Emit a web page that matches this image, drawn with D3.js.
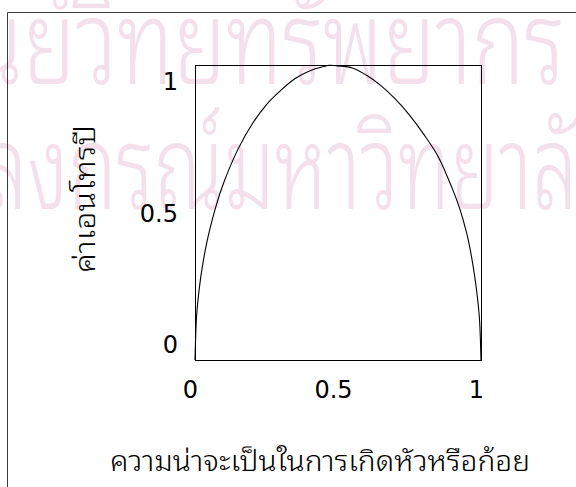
<!DOCTYPE html>
<html>
<head>
<meta charset="utf-8">
<script src="https://cdn.jsdelivr.net/npm/d3@7"></script>
<style>
  html, body { margin: 0; padding: 0; background: #ffffff; }
  svg { display: block; }
</style>
</head>
<body>
<svg id="chart" width="576" height="487"></svg>
<script>
// Probability of heads/tails (x) and the entropy value drawn for it (y)
const probability = [0, 0.005, 0.01, 0.02, 0.035, 0.05, 0.075, 0.1, 0.15, 0.2, 0.25, 0.3, 0.35, 0.4, 0.45, 0.47,
                     0.5, 0.55, 0.6, 0.65, 0.7, 0.75, 0.8, 0.85, 0.9, 0.925, 0.95, 0.965, 0.98, 0.99, 0.995, 1];
const entropy     = [0, 0.141, 0.199, 0.28, 0.368, 0.436, 0.527, 0.6, 0.714, 0.8, 0.866, 0.914, 0.954, 0.98, 0.995, 0.999,
                     0.997, 0.99, 0.965, 0.93, 0.885, 0.83, 0.765, 0.69, 0.58, 0.515, 0.43, 0.36, 0.27, 0.19, 0.135, 0];

const xTickValues = [0, 0.5, 1];
const yTickValues = [0, 0.5, 1];
const xTitle = "ความน่าจะเป็นในการเกิดหัวหรือก้อย";
const yTitle = "ค่าเอนโทรปี";
const watermarkLines = ["ศูนย์วิทยทรัพยากร", "จุฬาลงกรณ์มหาวิทยาลัย"];

const svg = d3.select("#chart");
const numFont = "'DejaVu Sans', sans-serif";
const thaiFont = "'Noto Sans Thai Looped', 'Noto Sans Thai', 'Noto Sans', 'DejaVu Sans', sans-serif";

// faint background watermark
const wm = svg.append("g").attr("fill", "#f3e0ea").attr("font-weight", 300);
wm.append("text")
  .attr("x", -85).attr("y", 84)
  .attr("font-family", thaiFont).attr("font-size", 118)
  .attr("textLength", 650).attr("lengthAdjust", "spacingAndGlyphs")
  .text(watermarkLines[0]);
wm.append("text")
  .attr("x", -149).attr("y", 209)
  .attr("font-family", thaiFont).attr("font-size", 118)
  .attr("textLength", 775).attr("lengthAdjust", "spacingAndGlyphs")
  .text(watermarkLines[1]);

// outer frame (top and left edges)
svg.append("path")
  .attr("d", "M7.5,487 V12.5 H576")
  .attr("fill", "none").attr("stroke", "#3a3a3a").attr("stroke-width", 1);

// plot area
const plot = { left: 195, right: 481, top: 65, bottom: 360 };
const x = d3.scaleLinear().domain([0, 1]).range([plot.left, plot.right]);
const y = d3.scaleLinear().domain([0, 1]).range([plot.bottom, plot.top]);

// tick label positions sit slightly inside the frame edges
const xLabel = d3.scaleLinear().domain([0, 1]).range([190, 476]);
const yLabel = d3.scaleLinear().domain([0, 1]).range([345, 82]);

svg.append("rect")
  .attr("x", plot.left + 0.5).attr("y", plot.top + 0.5)
  .attr("width", plot.right - plot.left).attr("height", plot.bottom - plot.top)
  .attr("fill", "none").attr("stroke", "#000").attr("stroke-width", 1);

const line = d3.line()
  .x((d, i) => x(probability[i]))
  .y(d => y(d))
  .curve(d3.curveCatmullRom.alpha(0.5));

svg.append("path")
  .datum(entropy)
  .attr("d", line)
  .attr("fill", "none").attr("stroke", "#000").attr("stroke-width", 1.1);

// axes: labels only
const xAxis = svg.append("g")
  .attr("transform", "translate(0,381)")
  .call(d3.axisBottom(xLabel).tickValues(xTickValues).tickSize(0).tickPadding(0).tickFormat(d3.format("")));
xAxis.select(".domain").remove();
xAxis.selectAll("text")
  .attr("font-family", numFont).attr("font-size", 24).attr("fill", "#000")
  .attr("dy", "0.71em");

const yAxis = svg.append("g")
  .attr("transform", "translate(178,0)")
  .call(d3.axisLeft(yLabel).tickValues(yTickValues).tickSize(0).tickPadding(0).tickFormat(d3.format("")));
yAxis.select(".domain").remove();
yAxis.selectAll("text")
  .attr("font-family", numFont).attr("font-size", 24).attr("fill", "#000");

// axis titles
svg.append("text")
  .attr("x", 320).attr("y", 471)
  .attr("text-anchor", "middle")
  .attr("font-family", thaiFont).attr("font-size", 28).attr("font-weight", 300).attr("fill", "#000")
  .attr("textLength", 420).attr("lengthAdjust", "spacingAndGlyphs")
  .text(xTitle);

svg.append("text")
  .attr("transform", "translate(95,199) rotate(-90)")
  .attr("text-anchor", "middle")
  .attr("font-family", thaiFont).attr("font-size", 28).attr("font-weight", 300).attr("fill", "#000")
  .attr("textLength", 148).attr("lengthAdjust", "spacingAndGlyphs")
  .text(yTitle);
</script>
</body>
</html>
